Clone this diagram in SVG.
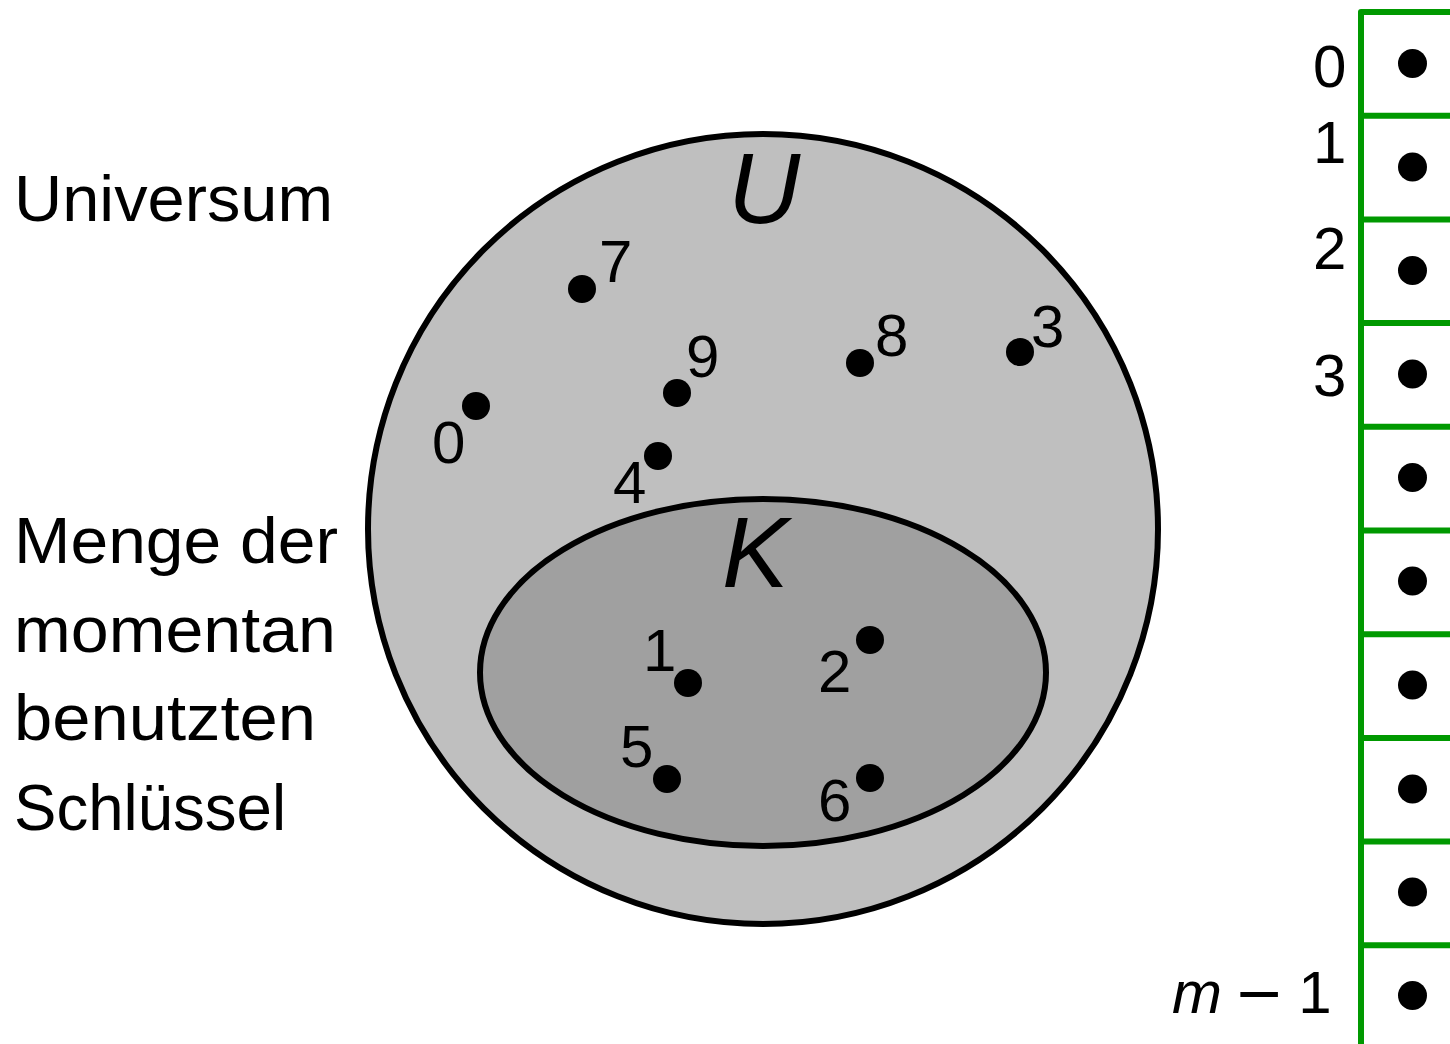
<svg xmlns="http://www.w3.org/2000/svg" width="1450" height="1044" viewBox="0 0 1450 1044">
<style>
text{font-family:"Liberation Sans","DejaVu Sans",sans-serif;fill:#000}
.t{font-size:64px}
.d{font-size:60px}
.m{font-size:100px;font-style:italic}
.dot{fill:#000}
.g{stroke:#009900;stroke-width:6;fill:none;stroke-linejoin:round}
</style>
<rect width="1450" height="1044" fill="#fff"/>
<g id="labels-left">
<text class="t" x="14" y="221" textLength="319" lengthAdjust="spacingAndGlyphs">Universum</text>
<text class="t" x="14" y="563" textLength="324" lengthAdjust="spacingAndGlyphs">Menge der</text>
<text class="t" x="14" y="652" textLength="322" lengthAdjust="spacingAndGlyphs">momentan</text>
<text class="t" x="14" y="740" textLength="302" lengthAdjust="spacingAndGlyphs">benutzten</text>
<text class="t" x="14" y="830" textLength="272" lengthAdjust="spacingAndGlyphs">Schlüssel</text>
</g>
<g id="universe">
<circle cx="763" cy="529" r="395" fill="#bfbfbf" stroke="#000" stroke-width="6"/>
<text class="m" x="728" y="223">U</text>
</g>
<g id="keys">
<ellipse cx="763" cy="672.5" rx="283" ry="173.5" fill="#a0a0a0" stroke="#000" stroke-width="6"/>
<text class="m" x="722" y="587">K</text>
</g>
<g id="elements">
<circle class="dot" cx="582" cy="289" r="14"/><text class="d" x="599" y="282">7</text>
<circle class="dot" cx="677" cy="393" r="14"/><text class="d" x="686" y="377">9</text>
<circle class="dot" cx="860" cy="363" r="14"/><text class="d" x="875" y="356">8</text>
<circle class="dot" cx="1020" cy="352" r="14"/><text class="d" x="1031" y="347">3</text>
<circle class="dot" cx="476" cy="406" r="14"/><text class="d" x="432" y="463">0</text>
<circle class="dot" cx="658" cy="456" r="14"/><text class="d" x="613" y="503">4</text>
<circle class="dot" cx="688" cy="683" r="14"/><text class="d" x="643" y="671">1</text>
<circle class="dot" cx="870" cy="640" r="14"/><text class="d" x="818" y="692">2</text>
<circle class="dot" cx="667" cy="779" r="14"/><text class="d" x="620" y="767">5</text>
<circle class="dot" cx="870" cy="778" r="14"/><text class="d" x="818" y="821">6</text>
</g>
<g id="table">
<path class="g" d="M1361,1050 V12 H1452"/>
<path class="g" d="M1361,115.7 H1452 M1361,219.4 H1452 M1361,323 H1452 M1361,426.8 H1452 M1361,530.5 H1452 M1361,634.2 H1452 M1361,738 H1452 M1361,841.6 H1452 M1361,945.3 H1452"/>
<circle class="dot" cx="1412.5" cy="63.5" r="14.5"/>
<circle class="dot" cx="1412.5" cy="167" r="14.5"/>
<circle class="dot" cx="1412.5" cy="270.5" r="14.5"/>
<circle class="dot" cx="1412.5" cy="374" r="14.5"/>
<circle class="dot" cx="1412.5" cy="477.5" r="14.5"/>
<circle class="dot" cx="1412.5" cy="581" r="14.5"/>
<circle class="dot" cx="1412.5" cy="685" r="14.5"/>
<circle class="dot" cx="1412.5" cy="789" r="14.5"/>
<circle class="dot" cx="1412.5" cy="892" r="14.5"/>
<circle class="dot" cx="1412.5" cy="995.5" r="14.5"/>
<text class="d" x="1313" y="87">0</text>
<text class="d" x="1313" y="163">1</text>
<text class="d" x="1313" y="269">2</text>
<text class="d" x="1313" y="396">3</text>
<text class="d" x="1172" y="1013"><tspan font-style="italic">m</tspan><tspan dx="12" font-family="DejaVu Sans, sans-serif">−</tspan><tspan dx="14">1</tspan></text>
</g>
</svg>
